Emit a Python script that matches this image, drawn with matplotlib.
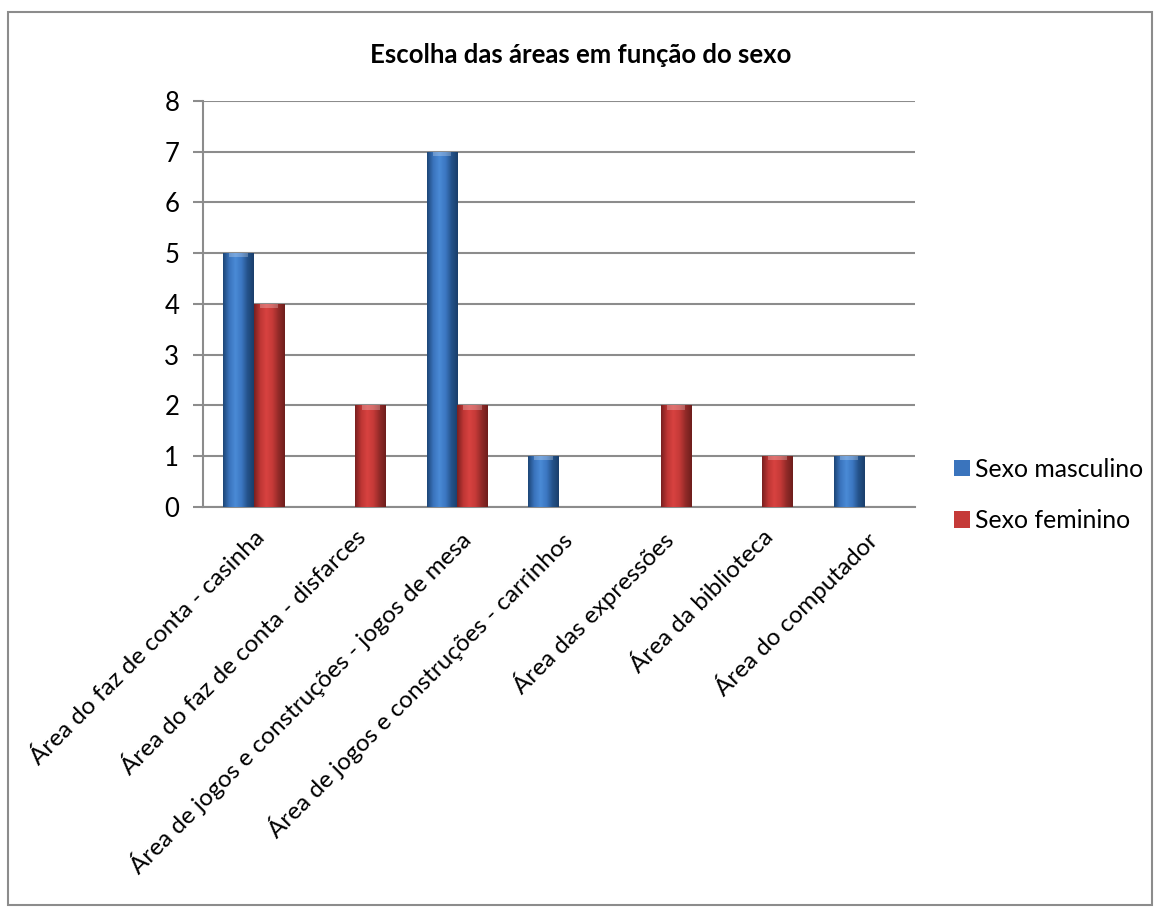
import numpy as np
import matplotlib.pyplot as plt
from matplotlib.patches import Rectangle
from matplotlib.colors import LinearSegmentedColormap

plt.rcParams['font.family'] = ['Lato', 'DejaVu Sans']

categories = ['Área do faz de conta - casinha',
              'Área do faz de conta - disfarces',
              'Área de jogos e construções - jogos de mesa',
              'Área de jogos e construções - carrinhos',
              'Área das expressões',
              'Área da biblioteca',
              'Área do computador']
masculino = [5, 0, 7, 1, 0, 0, 1]
feminino = [4, 2, 2, 0, 2, 1, 0]

fig = plt.figure(figsize=(11.61, 9.13), dpi=100)
ax = fig.add_axes([0.1748, 0.4447, 0.788 - 0.1748, 0.8894 - 0.4447])

# outer chart frame
fig.patches.append(Rectangle((8 / 1161, 1 - 905 / 913), (1152 - 8) / 1161, (905 - 12) / 913,
                             transform=fig.transFigure, fill=False, ec='#8c8c8c', lw=1.5))

x = np.arange(len(categories))
w = 0.3
blue_cmap = LinearSegmentedColormap.from_list('b', ['#1d4677', '#3a74bd', '#4a8ad6', '#3c78c2', '#24528a', '#1a3f6b'])
red_cmap = LinearSegmentedColormap.from_list('r', ['#7a2020', '#bf3634', '#d84240', '#c53a38', '#922a28', '#6e1e1c'])

b1 = ax.bar(x - w / 2, masculino, w, color='#3a74bd', label='Sexo masculino', zorder=3)
b2 = ax.bar(x + w / 2, feminino, w, color='#c53a38', label='Sexo feminino', zorder=3)

grad = np.linspace(0, 1, 64).reshape(1, -1)
for bars, cmap in [(b1, blue_cmap), (b2, red_cmap)]:
    for r in bars:
        if r.get_height() == 0:
            continue
        x0, y0 = r.get_x(), r.get_y()
        im = ax.imshow(grad, cmap=cmap, aspect='auto', zorder=4,
                       extent=[x0, x0 + r.get_width(), y0, y0 + r.get_height()])
        im.set_clip_path(r)
        # light cap at the top
        ax.bar(x0 + r.get_width() / 2, 0.08, r.get_width() * 0.6, bottom=r.get_height() - 0.08,
               color='#ffffff', alpha=0.25, zorder=5, lw=0)

ax.set_xlim(-0.5, len(categories) - 0.5)
ax.set_ylim(0, 8)
ax.set_yticks(range(0, 9))
ax.yaxis.grid(True, color='#8c8c8c', lw=1.5, zorder=0)
ax.set_axisbelow(True)
for s in ['top', 'right']:
    ax.spines[s].set_visible(False)
for s in ['left', 'bottom']:
    ax.spines[s].set_color('#8c8c8c')
    ax.spines[s].set_linewidth(1.5)
ax.tick_params(axis='y', length=7, width=1.5, color='#8c8c8c', labelsize=18.5, pad=10)
ax.tick_params(axis='x', length=0, labelsize=17.5, pad=14)
ax.set_xticks(x)
ax.set_xticklabels(categories, rotation=45, ha='right', rotation_mode='anchor')

fig.text(0.5, 0.94, 'Escolha das áreas em função do sexo', ha='center', va='center',
         fontsize=18.5, fontweight='bold')

ax.legend(loc='center left', bbox_to_anchor=(1.03, 0.03), frameon=False, fontsize=17.8,
          handlelength=0.65, handleheight=0.65, handletextpad=0.2, labelspacing=1.15,
          borderaxespad=0.3)

fig.savefig('out.png', dpi=100)
